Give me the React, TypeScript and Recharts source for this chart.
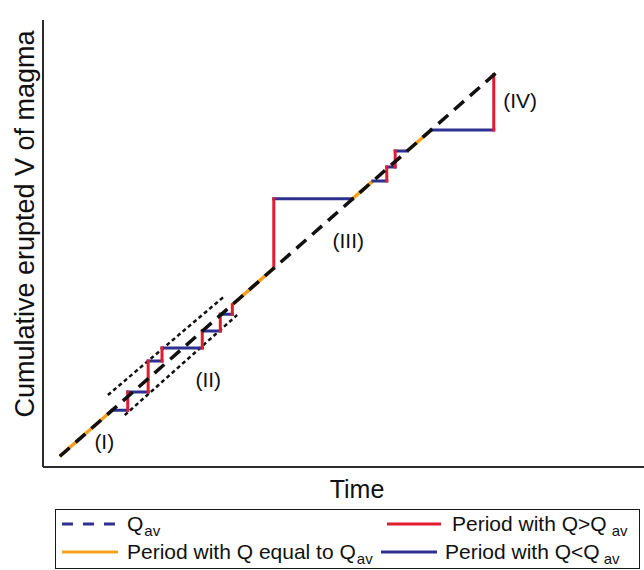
import React from "react";
import { LineChart, Line, XAxis, YAxis, ReferenceDot } from "recharts";

const FONT = "'Liberation Sans', Arial, Helvetica, sans-serif";

const pathTime = [2.8, 11.5, 14.1, 14.1, 17.5, 17.5, 19.8, 19.8, 26.5, 26.5, 29.5, 29.5, 31.5, 31.5, 38.4, 38.4, 51.5, 54.9, 57.2, 57.2, 58.6, 58.6, 60.6, 64.6, 75.0, 75.0];
const pathVolume = [2.4, 12.7, 12.7, 16.8, 16.8, 23.7, 23.7, 26.6, 26.6, 30.4, 30.4, 34.2, 34.2, 36.3, 44.5, 60.0, 60.0, 64.0, 64.0, 67.1, 67.1, 70.7, 70.7, 75.4, 75.4, 87.8];
// kind of each segment between consecutive vertices
const segmentKind = ["eq", "lt", "gt", "lt", "gt", "lt", "gt", "lt", "gt", "lt", "gt", "lt", "gt", "eq", "gt", "lt", "eq", "lt", "gt", "lt", "gt", "lt", "eq", "lt", "gt"];

// Average rate line Q_av
const qavTime = [2.8, 75.5];
const qavVolume = [2.4, 88.3];

// Dotted envelope around (II)
const envUpperTime = [10.8, 30.0];
const envUpperVolume = [16.1, 38.0];
const envLowerTime = [13.6, 32.3];
const envLowerVolume = [11.6, 34.0];

// Region labels
const labelText = ["(I)", "(II)", "(III)", "(IV)"];
const labelTime = [10.2, 27.5, 50.8, 79.4];
const labelVolume = [5.8, 19.5, 50.6, 81.9];

const COLORS: Record<string, string> = {
  eq: "#F6A11C",
  gt: "#E31B2E",
  lt: "#2E3192",
  qav: "#111111",
  legendQav: "#2E3192",
};

function segmentsOf(kind: string) {
  const out: { x: number; y: number | null }[] = [];
  segmentKind.forEach((k, i) => {
    if (k !== kind) return;
    out.push({ x: pathTime[i], y: pathVolume[i] });
    out.push({ x: pathTime[i + 1], y: pathVolume[i + 1] });
    out.push({ x: pathTime[i + 1], y: null });
  });
  return out;
}

function pairs(xs: number[], ys: number[]) {
  return xs.map((x, i) => ({ x, y: ys[i] }));
}

const eqData = segmentsOf("eq");
const ltData = segmentsOf("lt");
const gtData = segmentsOf("gt");
const qavData = pairs(qavTime, qavVolume);
const upperData = pairs(envUpperTime, envUpperVolume);
const lowerData = pairs(envLowerTime, envLowerVolume);

const TimeLabel = () => (
  <text x={357} y={498} textAnchor="middle" fontSize={25} fill="#111" fontFamily={FONT}>
    Time
  </text>
);

const VolLabel = () => (
  <text
    x={34}
    y={224}
    transform="rotate(-90, 34, 224)"
    textAnchor="middle"
    fontSize={27}
    fill="#111"
    fontFamily={FONT}
  >
    Cumulative erupted V of magma
  </text>
);

const Sub = ({ children, gap = 1 }: { children: React.ReactNode; gap?: number }) => (
  <span style={{ fontSize: 15, position: "relative", top: 5, marginLeft: gap }}>{children}</span>
);

function LegendItem({
  x1,
  x2,
  tx,
  cy,
  color,
  dashed,
  children,
}: {
  x1: number;
  x2: number;
  tx: number;
  cy: number;
  color: string;
  dashed?: boolean;
  children: React.ReactNode;
}) {
  return (
    <>
      <svg
        style={{ position: "absolute", left: x1, top: cy - 3 }}
        width={x2 - x1}
        height={6}
      >
        <line
          x1={0}
          y1={3}
          x2={x2 - x1}
          y2={3}
          stroke={color}
          strokeWidth={3}
          strokeDasharray={dashed ? "11 10" : undefined}
        />
      </svg>
      <div
        style={{
          position: "absolute",
          left: tx,
          top: cy - 12,
          lineHeight: "24px",
          fontSize: 21,
          whiteSpace: "nowrap",
          color: "#111",
          fontFamily: FONT,
        }}
      >
        {children}
      </div>
    </>
  );
}

export default function App() {
  return (
    <div
      style={{
        position: "absolute",
        left: 0,
        top: 0,
        width: 644,
        height: 570,
        background: "#fff",
        overflow: "hidden",
        fontFamily: FONT,
      }}
    >
      <LineChart width={644} height={570} margin={{ top: 20, right: 0, bottom: 93, left: 0 }}>
        <XAxis
          type="number"
          dataKey="x"
          domain={[0, 100]}
          allowDataOverflow
          tick={false}
          tickLine={false}
          height={10}
          axisLine={{ stroke: "#2b2b2b", strokeWidth: 2 }}
          label={<TimeLabel />}
        />
        <YAxis
          type="number"
          domain={[0, 100]}
          allowDataOverflow
          tick={false}
          tickLine={false}
          width={43}
          axisLine={{ stroke: "#2b2b2b", strokeWidth: 2 }}
          label={<VolLabel />}
        />
        <Line
          data={upperData}
          dataKey="y"
          stroke="#111"
          strokeWidth={2.5}
          strokeDasharray="4 3"
          dot={false}
          activeDot={false}
          isAnimationActive={false}
        />
        <Line
          data={lowerData}
          dataKey="y"
          stroke="#111"
          strokeWidth={2.5}
          strokeDasharray="4 3"
          dot={false}
          activeDot={false}
          isAnimationActive={false}
        />
        <Line
          data={eqData}
          dataKey="y"
          stroke={COLORS.eq}
          strokeWidth={3.5}
          dot={false}
          activeDot={false}
          isAnimationActive={false}
        />
        <Line
          data={ltData}
          dataKey="y"
          stroke={COLORS.lt}
          strokeWidth={3}
          strokeLinecap="square"
          dot={false}
          activeDot={false}
          isAnimationActive={false}
        />
        <Line
          data={gtData}
          dataKey="y"
          stroke={COLORS.gt}
          strokeWidth={3}
          strokeLinecap="square"
          dot={false}
          activeDot={false}
          isAnimationActive={false}
        />
        <Line
          data={qavData}
          dataKey="y"
          stroke={COLORS.qav}
          strokeWidth={3.5}
          strokeDasharray="13 8"
          dot={false}
          activeDot={false}
          isAnimationActive={false}
        />
        {labelText.map((t, i) => (
          <ReferenceDot
            key={t}
            x={labelTime[i]}
            y={labelVolume[i]}
            r={0}
            fill="none"
            stroke="none"
            label={{ value: t, position: "center", fontSize: 21, fill: "#111", fontFamily: FONT }}
          />
        ))}
      </LineChart>
      <div
        style={{
          position: "absolute",
          left: 55,
          top: 509,
          width: 585,
          height: 60,
          border: "1.5px solid #1a1a1a",
          boxSizing: "border-box",
        }}
      />
      <LegendItem x1={62} x2={118} tx={127} cy={524} color={COLORS.legendQav} dashed>
        Q<Sub>av</Sub>
      </LegendItem>
      <LegendItem x1={62} x2={118} tx={127} cy={552} color={COLORS.eq}>
        Period with Q equal to Q<Sub>av</Sub>
      </LegendItem>
      <LegendItem x1={387} x2={441} tx={452} cy={524} color={COLORS.gt}>
        Period with Q&gt;Q<Sub gap={5}>av</Sub>
      </LegendItem>
      <LegendItem x1={381} x2={437} tx={445} cy={552} color={COLORS.lt}>
        Period with Q&lt;Q<Sub gap={4}>av</Sub>
      </LegendItem>
    </div>
  );
}
